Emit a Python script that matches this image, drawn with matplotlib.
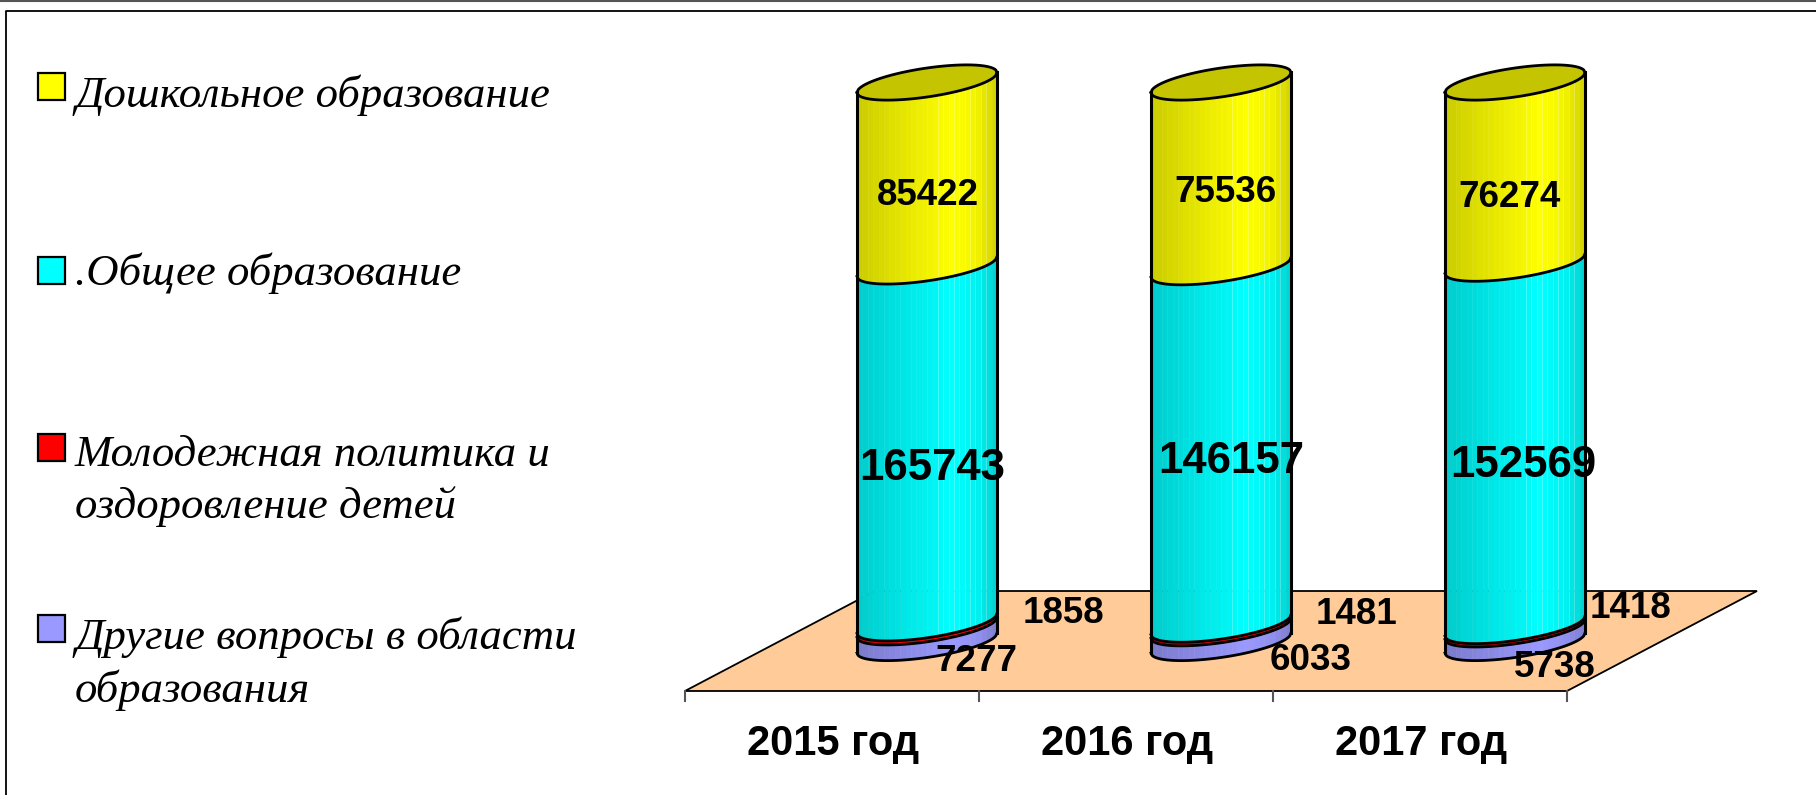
import matplotlib
matplotlib.use('Agg')
import matplotlib.pyplot as plt
import numpy as np

W, H = 1816, 795

years = ['2015 год', '2016 год', '2017 год']
other = [7277, 6033, 5738]
youth = [1858, 1481, 1418]
general = [165743, 146157, 152569]
preschool = [85422, 75536, 76274]

series = [other, youth, general, preschool]
colors = [(0.6, 0.6, 1.0), (1.0, 0.0, 0.0), (0.0, 1.0, 1.0), (1.0, 1.0, 0.0)]
legend_labels = ['Дошкольное образование', '.Общее образование',
                 'Молодежная политика и\nоздоровление детей',
                 'Другие вопросы в области\nобразования']
legend_colors = ['#ffff00', '#00ffff', '#ff0000', '#9999ff']
legend_y = [73, 257, 434, 615]
legend_text_y = [74, 253, 435, 616]

# px offset of each value label from the middle of its segment (y is downwards)
label_dx = [[49, 136, 5, 1], [90, 135, 10, 4], [40, 115, 8, -5]]
label_dy = [[26, -12, 24, 21], [25, -12, 16, 18], [31, -19, 21, 24]]
label_size = [26.5, 26.5, 31.5, 26.5]

fig = plt.figure(figsize=(W / 100, H / 100), dpi=100)
ax = fig.add_axes([0, 0, 1, 1])
# axes scale: category 0 sits at px 927, spacing 294; 0% at px 643, 100% at px 82.5
px_x = 294.0
px_y = 5.605
ax.set_xlim(-927 / px_x, (W - 927) / px_x)
ax.set_ylim(-(H - 643) / px_y, 643 / px_y)
ax.axis('off')

# floor
depth = 95 / px_x
front = -48 / px_y
back = 52 / px_y
x0 = -0.5 - depth
x1 = 2.5 - depth
ax.fill([x0, x1, x1 + 2 * depth, x0 + 2 * depth], [front, front, back, back],
        color='#ffcc99', ec='black', lw=1.3, zorder=1)
for k in range(4):
    ax.plot([x0 + k, x0 + k], [front, front - 10 / px_y], color='#555555', lw=1.5, zorder=1)

# cylinder shape
r = 70 / px_x
slope = 10 / px_y
b = 14.5 / px_y
u = np.linspace(-1, 1, 121)
low = slope * u - b * np.sqrt(1 - u ** 2)
up = slope * u + b * np.sqrt(1 - u ** 2)

# brightness of the vertical facets
facet_edges = np.linspace(-1, 1, 27)
def shade(t):
    return np.interp(t, [-1, -0.6, 0.35, 0.7, 1], [0.80, 0.86, 1.0, 0.95, 0.82])

for i in range(3):
    total = sum(s[i] for s in series)
    base = 0
    for j, s in enumerate(series):
        h = s[i] / total * 100
        for a, c in zip(facet_edges[:-1], facet_edges[1:]):
            uu = np.linspace(a, c, 6)
            ll = slope * uu - b * np.sqrt(1 - uu ** 2)
            f = shade((a + c) / 2)
            ax.fill_between(i + r * uu, base + ll, base + h + ll,
                            color=[v * f for v in colors[j]], lw=0.3, zorder=2 + j)
            # thin light seams on the right half, as in the original render
            if 0.1 < a < 0.9 and h > 20:
                yb = base + ll[0]
                ax.plot([i + r * a, i + r * a], [yb, yb + h], color='white', alpha=0.25, lw=0.6, zorder=2 + j)
        ax.plot(i + r * u, base + low, color='black', lw=2.0, zorder=7)
        mid = base + h / 2
        ax.annotate(str(s[i]), (i, mid), xytext=(label_dx[i][j] * 0.72, -label_dy[i][j] * 0.72),
                    textcoords='offset points', ha='center', va='center', fontsize=label_size[j],
                    fontweight='bold', family='Liberation Sans', color='black', zorder=9)
        base += h
    # sides and top face
    ax.plot([i - r, i - r], [low[0], 100 + low[0]], color='black', lw=2.2, zorder=7)
    ax.plot([i + r, i + r], [low[-1], 100 + low[-1]], color='black', lw=2.2, zorder=7)
    ax.fill_between(i + r * u, 100 + low, 100 + up, color='#c4c400', lw=0, zorder=6)
    ax.plot(i + r * u, 100 + up, color='black', lw=2.0, zorder=7)
    ax.plot(i + r * u, 100 + low, color='black', lw=2.0, zorder=7)
    ax.text(i - depth + 1.5 / px_x, front - 53 / px_y, years[i], ha='center', va='center', fontsize=30,
            fontweight='bold', family='Liberation Sans', zorder=9)

# legend and frame are drawn in figure pixels
def fx(x):
    return x / W
def fy(y):
    return 1 - y / H

for lab, col, y, ty in zip(legend_labels, legend_colors, legend_y, legend_text_y):
    fig.add_artist(plt.Rectangle((fx(38), fy(y + 27)), 27 / W, 27 / H, transform=fig.transFigure,
                                 fc=col, ec='black', lw=1.6))
    fig.text(fx(75), fy(ty), lab, ha='left', va='top', fontsize=32.2, style='italic',
             family='Liberation Serif', linespacing=1.36)

fig.add_artist(plt.Line2D([0, 1], [fy(1), fy(1)], color='#555555', lw=1.5))
fig.add_artist(plt.Line2D([fx(6), fx(6), 1], [0, fy(10.5), fy(10.5)], color='black', lw=1.3))

fig.savefig('out.png', dpi=100)
